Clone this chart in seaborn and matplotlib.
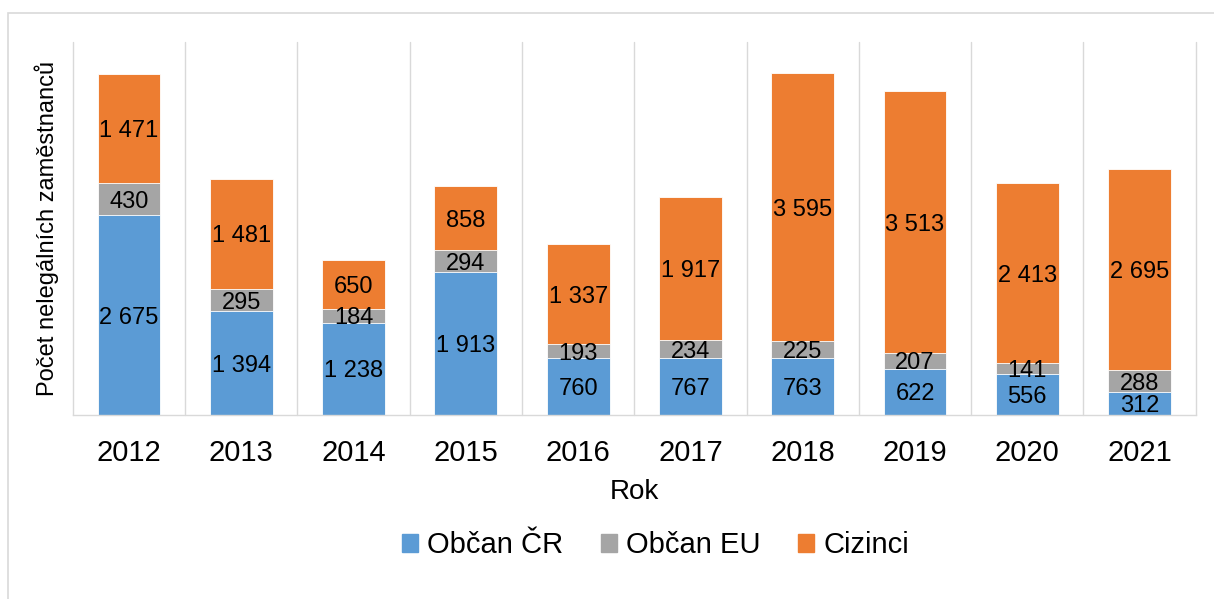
import seaborn as sns
import pandas as pd
import matplotlib.pyplot as plt
from matplotlib.patches import Rectangle, Patch

years = ['2012', '2013', '2014', '2015', '2016', '2017', '2018', '2019', '2020', '2021']
obcan_cr = [2675, 1394, 1238, 1913, 760, 767, 763, 622, 556, 312]
obcan_eu = [430, 295, 184, 294, 193, 234, 225, 207, 141, 288]
cizinci = [1471, 1481, 650, 858, 1337, 1917, 3595, 3513, 2413, 2695]

c_cr = '#5B9BD5'
c_eu = '#A5A5A5'
c_ci = '#ED7D31'

df = pd.DataFrame({'Rok': years, 'cr': obcan_cr, 'eu': obcan_eu, 'ci': cizinci})
df['cr_eu'] = df['cr'] + df['eu']
df['total'] = df['cr_eu'] + df['ci']

sns.set_style('white')
plt.rcParams['font.family'] = ['Liberation Sans', 'DejaVu Sans']
plt.rcParams['text.color'] = 'black'
plt.rcParams['axes.labelcolor'] = 'black'
plt.rcParams['xtick.color'] = 'black'

fig = plt.figure(figsize=(12.14, 5.99), dpi=100)
ax = fig.add_axes([0.060, 0.307, 0.925, 0.623])

# stacked bars drawn as cumulative layers, top layer first
sns.barplot(data=df, x='Rok', y='total', color=c_ci, width=0.56, saturation=1,
            edgecolor='white', linewidth=0.6, ax=ax)
sns.barplot(data=df, x='Rok', y='cr_eu', color=c_eu, width=0.56, saturation=1,
            edgecolor='white', linewidth=0.6, ax=ax)
sns.barplot(data=df, x='Rok', y='cr', color=c_cr, width=0.56, saturation=1,
            edgecolor='white', linewidth=0.6, ax=ax)

def fmt(v):
    return f'{v:,}'.replace(',', ' ')

for i, row in df.iterrows():
    ax.text(i, row['cr'] / 2, fmt(row['cr']), ha='center', va='center_baseline', fontsize=17)
    ax.text(i, row['cr'] + row['eu'] / 2, fmt(row['eu']), ha='center', va='center_baseline', fontsize=17)
    ax.text(i, row['cr_eu'] + row['ci'] / 2, fmt(row['ci']), ha='center', va='center_baseline', fontsize=17)

ax.set_xlim(-0.5, len(years) - 0.5)
ax.set_ylim(0, 5000)
ax.set_yticks([])
for b in range(len(years) + 1):
    ax.axvline(b - 0.5, color='#D9D9D9', linewidth=1, clip_on=False, zorder=0)

for s in ['top', 'right', 'left']:
    ax.spines[s].set_visible(False)
ax.spines['bottom'].set_color('#D9D9D9')
ax.spines['bottom'].set_linewidth(1)

ax.tick_params(axis='x', length=0, pad=17, labelsize=21)
ax.set_xlabel('Rok', fontsize=20, labelpad=9)
ax.set_ylabel('Počet nelegálních zaměstnanců', fontsize=17, labelpad=10)

handles = [Patch(color=c_cr, label='Občan ČR'),
           Patch(color=c_eu, label='Občan EU'),
           Patch(color=c_ci, label='Cizinci')]
fig.legend(handles=handles, loc='center', bbox_to_anchor=(0.54, 0.09), ncol=3,
           frameon=False, fontsize=21, handlelength=0.55, handleheight=0.55,
           handletextpad=0.3, columnspacing=1.3)

fig.patches.append(Rectangle((0.0066, -0.1), 1.2, 1.078, transform=fig.transFigure,
                             fill=False, edgecolor='#D9D9D9', linewidth=1.2))

plt.savefig('out.png', dpi=100)
